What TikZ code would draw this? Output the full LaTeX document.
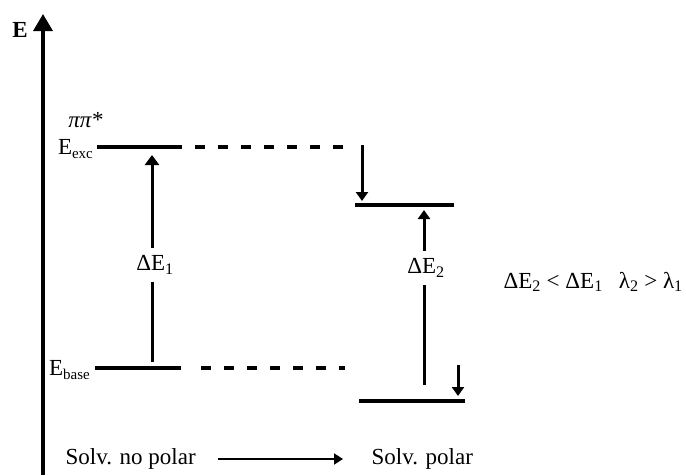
\documentclass[tikz,border=0pt]{standalone}
\usepackage{fontspec}
\setmainfont{Liberation Serif}
\usetikzlibrary{arrows.meta}

\begin{document}
\begin{tikzpicture}[x=1pt,y=-1pt,line width=3.2pt,
        level/.style={line width=3.2pt},
        trans/.style={line width=3pt,-{Triangle[length=10pt,width=14pt]}},
        lbl/.style={inner sep=0pt,font=\fontsize{23}{26}\selectfont}]
        \useasboundingbox (0,0) rectangle (686,475);

	%---LEVELS---
        \coordinate (exc1a) at (97,147);  \coordinate (exc1b) at (182,147);
        \coordinate (base1a) at (95,368); \coordinate (base1b) at (181,368);
        \coordinate (exc2a) at (355,205); \coordinate (exc2b) at (454,205);
        \coordinate (base2a) at (359,401); \coordinate (base2b) at (465,401);

        \draw[level] (exc1a) -- (exc1b) ;
        \draw[level] (base1a) -- (base1b) ;
        \draw[level] (exc2a) -- (exc2b) ;
        \draw[level] (base2a) -- (base2b) ;

        \coordinate (d1a) at (195,147); \coordinate (d1b) at (350,147);
        \coordinate (d2a) at (201,368); \coordinate (d2b) at (345,368);
        \draw[level,dash pattern=on 10pt off 13pt] (d1a) -- (d1b) ;
        \draw[level,dash pattern=on 10pt off 13pt] (d2a) -- (d2b) ;

	%---AXIS---
        \coordinate (ax0) at (43,475); \coordinate (ax1) at (43,14);
        \draw[line width=3.4pt,-{Triangle[length=17pt,width=19pt]}] (ax0) -- (ax1) ;
        \node[lbl] (E) at (20,30) {\textbf{E}};

	%---LABELS---
        \node[lbl] (pp) at (86,120) {\textit{ππ}*};
        \node[lbl,anchor=east] (Eexc) at (95,149) {E\textsubscript{\fontsize{15}{15}\selectfont exc}};
        \node[lbl,anchor=east] (Ebase) at (92,370) {E\textsubscript{\fontsize{15}{15}\selectfont base}};

	%---TRANSITIONS---
        \node[lbl,inner sep=6pt] (dE1) at (155,265) {ΔE\textsubscript{1}};
        \coordinate (t1a) at (152,362); \coordinate (t1b) at (152,155);
        \draw[trans,-] (t1a) -- (t1a |- dE1.south) ;
        \draw[trans] (t1b |- dE1.north) -- (t1b) ;

        \node[lbl,inner sep=6pt] (dE2) at (426,268) {ΔE\textsubscript{2}};
        \coordinate (t2a) at (424,385); \coordinate (t2b) at (424,210);
        \draw[trans,-] (t2a) -- (t2a |- dE2.south) ;
        \draw[trans,-{Triangle[length=9pt,width=12pt]}] (t2b |- dE2.north) -- (t2b) ;

	%---SHIFTS---
        \coordinate (s1a) at (362,145); \coordinate (s1b) at (362,201);
        \coordinate (s2a) at (458,365); \coordinate (s2b) at (458,396);
        \draw[trans,-{Triangle[length=9pt,width=12pt]}] (s1a) -- (s1b) ;
        \draw[trans,-{Triangle[length=9pt,width=12pt]}] (s2a) -- (s2b) ;

        \node[lbl,anchor=west] (rel) at (502,282) {ΔE\textsubscript{2} < ΔE\textsubscript{1}\hspace{16pt}λ\textsubscript{2} > λ\textsubscript{1}};

	%---SOLVENT---
        \node[lbl,anchor=west] (np) at (64,459) {Solv. no polar};
        \node[lbl,anchor=west] (pol) at (370,459) {Solv. polar};
        \coordinate (sv0) at (218,459); \coordinate (sv1) at (343,459);
        \draw[line width=2pt,-{Triangle[length=9pt,width=11pt]}] (sv0) -- (sv1) ;
    \end{tikzpicture}
\end{document}
